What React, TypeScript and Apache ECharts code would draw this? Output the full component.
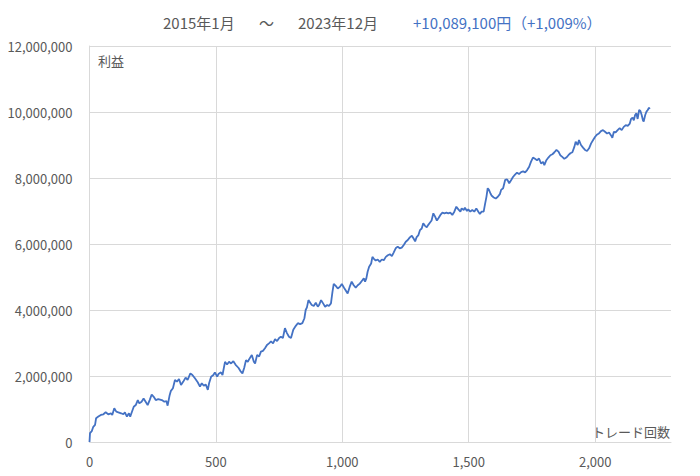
import React, { useEffect, useRef } from "react";
import * as echarts from "echarts";

// trade count (x) and cumulative profit in 万円 (10,000 yen units)
const trades = [
  0, 2, 9, 15, 22, 26, 35, 45, 55, 64, 74, 85, 90, 98, 106, 114, 125, 134, 140, 148, 156, 161, 169, 175, 183, 191, 197, 206, 214, 222, 230, 238, 246, 254, 262, 272, 286, 296, 304, 309, 317, 322, 330, 338, 346, 354, 362, 371, 380, 388, 399, 407, 417,
  428, 437, 444, 452, 460, 468, 473, 481, 490, 496, 505, 510, 520, 526, 536, 544, 552, 560, 569, 578, 589, 597, 605, 612, 619, 626, 634, 642, 650, 655, 663, 671, 678, 686, 694, 702, 710, 718, 726, 734, 742, 750, 757, 765, 773, 781, 789, 797, 806, 816, 824, 833, 842, 850,
  855, 860, 866, 873, 879, 887, 895, 903, 908, 916, 924, 932, 940, 947, 955, 961, 966, 974, 982, 990, 998, 1006, 1013, 1021, 1029, 1037, 1045, 1053, 1061, 1069, 1077, 1085, 1090, 1095, 1100, 1106, 1114, 1119, 1124, 1132, 1140, 1148, 1156, 1164, 1172, 1180, 1188, 1196, 1203, 1211, 1219, 1227, 1235, 1243, 1251, 1259, 1267, 1275, 1283, 1288,
  1294, 1301, 1307, 1314, 1320, 1327, 1334, 1340, 1347, 1353, 1360, 1367, 1374, 1380, 1388, 1396, 1404, 1412, 1419, 1427, 1435, 1443, 1451, 1459, 1467, 1472, 1480, 1485, 1493, 1498, 1506, 1514, 1522, 1530, 1538, 1544, 1551, 1559, 1565, 1570, 1575, 1580, 1586, 1591, 1599, 1607, 1615, 1623, 1628, 1636, 1644, 1652, 1660, 1668, 1675, 1683, 1691, 1699, 1707, 1715,
  1723, 1731, 1739, 1746, 1754, 1762, 1770, 1778, 1786, 1794, 1799, 1807, 1815, 1823, 1831, 1839, 1847, 1855, 1862, 1870, 1878, 1886, 1894, 1902, 1910, 1918, 1923, 1931, 1936, 1944, 1952, 1960, 1968, 1976, 1984, 1992, 2000, 2008, 2015, 2023, 2031, 2039, 2047, 2055, 2063, 2068, 2074, 2081, 2089, 2097, 2105, 2113, 2121, 2129, 2137, 2142, 2148, 2153, 2158, 2163, 2168, 2174, 2179, 2184, 2189, 2192, 2198, 2203, 2208, 2213, 2216,
];

const profitMan = [
  0, 27, 33, 46, 52, 72, 77, 82, 84, 90, 84, 87, 82, 102, 92, 90, 87, 84, 90, 77, 87, 77, 94, 107, 112, 127, 117, 122, 132, 122, 112, 127, 144, 137, 127, 130, 127, 122, 124, 110, 142, 155, 163, 188, 183, 191, 173, 183, 195, 188, 208, 203, 193,
  181, 168, 178, 171, 174, 158, 178, 198, 203, 211, 198, 206, 211, 203, 243, 235, 243, 238, 245, 234, 225, 215, 208, 225, 248, 243, 254, 264, 243, 238, 264, 259, 274, 276, 284, 294, 299, 305, 299, 312, 306, 315, 319, 315, 345, 330, 319, 315, 340, 352, 360, 357, 360, 375,
  400, 408, 430, 422, 415, 412, 422, 410, 415, 430, 420, 410, 415, 412, 420, 455, 479, 473, 465, 470, 479, 468, 460, 450, 470, 486, 475, 468, 475, 480, 488, 496, 486, 496, 516, 531, 541, 561, 556, 550, 553, 546, 553, 551, 561, 566, 569, 563, 574, 587, 592, 587, 589, 597, 607, 612, 620, 625, 615, 608,
  621, 627, 642, 647, 663, 655, 651, 658, 665, 671, 693, 683, 671, 678, 688, 695, 693, 695, 693, 695, 688, 698, 713, 705, 698, 708, 703, 710, 700, 705, 698, 703, 698, 708, 698, 691, 698, 698, 723, 743, 769, 764, 753, 746, 741, 738, 743, 751, 764, 769, 794, 796, 784, 794, 803, 810, 816, 812, 818, 820,
  817, 824, 834, 849, 862, 858, 854, 859, 844, 849, 839, 854, 862, 869, 872, 878, 885, 880, 869, 864, 858, 862, 869, 875, 878, 895, 910, 900, 915, 900, 892, 885, 882, 890, 905, 915, 925, 932, 935, 942, 945, 940, 935, 938, 929, 922, 940, 938, 945, 951, 945, 955, 960, 958, 965, 979, 983, 975, 991, 996, 979, 1006, 1003, 991, 975, 971, 991, 1001, 1006, 1013, 1008.91,
];

const UNIT = 10000;
const xTickInterval = 500;
const yTickInterval = 2000000;
const xMax = 2300;
const yMax = 12000000;

const titlePeriodStart = "2015年1月";
const titleTilde = "〜";
const titlePeriodEnd = "2023年12月";
const titleResultAmount = "+10,089,100円";
const titleResultPercent = "（+1,009%）";
const yAxisTitle = "利益";
const xAxisTitle = "トレード回数";

const FONT = "'Noto Sans CJK JP', 'Noto Sans', sans-serif";
const GRAY = "#595959";
const GRID = "#d9d9d9";
const BLUE = "#4472C4";

const fmt = (v: number) => Math.round(v).toLocaleString("en-US");

export default function App() {
  const ref = useRef<HTMLDivElement>(null);
  useEffect(() => {
    document.body.style.margin = "0";
    if (!ref.current) return;
    const chart = echarts.init(ref.current, undefined, { renderer: "svg" });
    const data = trades.map((t, i) => [t, profitMan[i] * UNIT]);
    chart.setOption({
      animation: false,
      textStyle: { fontFamily: FONT },
      grid: { left: 89.5, right: 29, top: 46, bottom: 34, containLabel: false },
      graphic: [
        { type: "text", left: 163, top: 15, style: { text: titlePeriodStart, font: `15px ${FONT}`, fill: GRAY } },
        { type: "text", left: 259, top: 15, style: { text: titleTilde, font: `15px ${FONT}`, fill: GRAY } },
        { type: "text", left: 298, top: 15, style: { text: titlePeriodEnd, font: `15px ${FONT}`, fill: GRAY } },
        { type: "text", left: 413, top: 15, style: { text: titleResultAmount, font: `15px ${FONT}`, fill: BLUE } },
        { type: "text", left: 512, top: 15, style: { text: titleResultPercent, font: `15px ${FONT}`, fill: BLUE } },
        { type: "text", left: 98, top: 54, style: { text: yAxisTitle, font: `13px ${FONT}`, fill: GRAY } },
        { type: "text", right: 30, top: 425, style: { text: xAxisTitle, font: `13px ${FONT}`, fill: GRAY } },
      ],
      xAxis: {
        type: "value",
        min: 0,
        max: xMax,
        interval: xTickInterval,
        axisLine: { show: true, lineStyle: { color: GRID, width: 1 } },
        axisTick: { show: false },
        splitLine: { show: true, showMinLine: false, showMaxLine: false, lineStyle: { color: GRID, width: 1 } },
        axisLabel: {
          color: GRAY,
          fontSize: 13,
          fontFamily: FONT,
          margin: 13,
          showMaxLabel: false,
          formatter: (v: number) => fmt(v),
        },
      },
      yAxis: {
        type: "value",
        min: 0,
        max: yMax,
        interval: yTickInterval,
        axisLine: { show: true, lineStyle: { color: GRID, width: 1 } },
        axisTick: { show: false },
        splitLine: { show: true, lineStyle: { color: GRID, width: 1 } },
        axisLabel: {
          color: GRAY,
          fontSize: 13,
          fontFamily: FONT,
          margin: 17,
          formatter: (v: number) => fmt(v),
        },
      },
      series: [
        {
          type: "line",
          data,
          showSymbol: false,
          symbol: "none",
          lineStyle: { color: BLUE, width: 1.8 },
          itemStyle: { color: BLUE },
        },
      ],
    });
    return () => chart.dispose();
  }, []);
  return <div ref={ref} style={{ width: 700, height: 476 }} />;
}
